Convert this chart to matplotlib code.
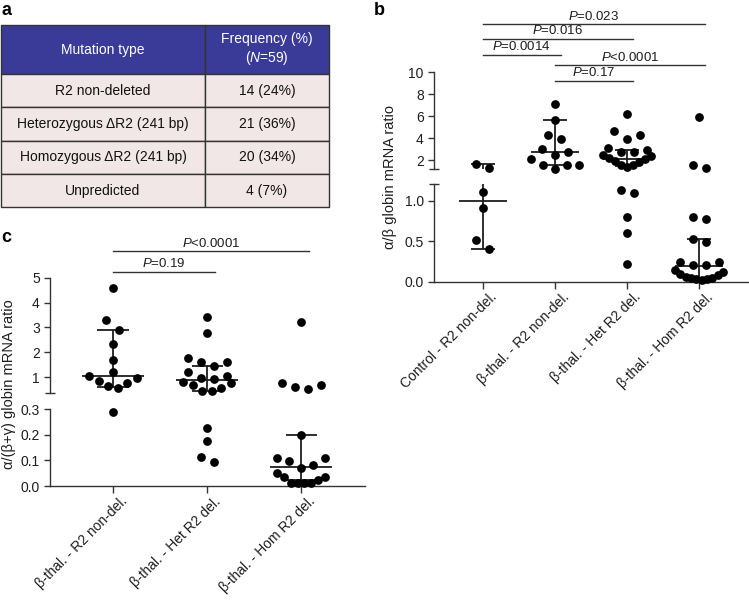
import matplotlib.pyplot as plt
import numpy as np
from matplotlib.transforms import blended_transform_factory, ScaledTranslation

plt.rcParams['font.family'] = ['Liberation Sans', 'DejaVu Sans']
plt.rcParams['mathtext.fontset'] = 'custom'
plt.rcParams['mathtext.rm'] = 'Liberation Sans'
plt.rcParams['mathtext.it'] = 'Liberation Sans:italic'

# ---- panel a: table
table_header = ['Mutation type', 'Frequency (%)\n($\\mathit{N}$=59)']
mutation_types = ['R2 non-deleted', 'Heterozygous \u0394R2 (241 bp)',
                  'Homozygous \u0394R2 (241 bp)', 'Unpredicted']
frequencies = ['14 (24%)', '21 (36%)', '20 (34%)', '4 (7%)']

# ---- panel b: alpha/beta globin mRNA ratio
b_labels = ['Control - R2 non-del.', '\u03b2-thal. - R2 non-del.',
            '\u03b2-thal. - Het R2 del.', '\u03b2-thal. - Hom R2 del.']
b_ctrl = [1.66, 1.30, 1.11, 0.91, 0.40, 0.51]
b_r2 = [7.15, 5.66, 4.30, 3.94, 3.00, 2.78, 2.48, 2.12, 1.55, 1.55, 1.55, 1.22]
b_het = [6.20, 4.64, 4.33, 3.94, 3.15, 2.95, 2.78, 2.75, 2.45, 2.40, 2.20, 2.15,
         1.90, 1.85, 1.60, 1.55, 1.40, 1.13, 1.09, 0.80, 0.60, 0.22]
b_hom = [5.97, 1.55, 1.27, 0.80, 0.77, 0.53, 0.49, 0.24, 0.24, 0.20, 0.20, 0.15,
         0.12, 0.10, 0.08, 0.06, 0.05, 0.04, 0.03, 0.03, 0.02]
b_median = [1.00, 2.73, 2.12, 0.19]
b_q1 = [0.40, 1.55, 1.50, 0.03]
b_q3 = [1.64, 5.66, 2.93, 0.53]
b_pairs = [(0, 3), (0, 2), (0, 1), (1, 3), (1, 2)]
b_pvals = ['=0.023', '=0.016', '=0.0014', '<0.0001', '=0.17']

# ---- panel c: alpha/(beta+gamma) globin mRNA ratio
c_labels = b_labels[1:]
c_r2 = [4.57, 3.28, 2.90, 2.33, 1.69, 1.19, 1.03, 0.95, 0.85, 0.77, 0.64, 0.55, 0.29]
c_het = [3.41, 2.77, 1.77, 1.61, 1.60, 1.45, 1.20, 1.03, 0.95, 0.93, 0.80, 0.77,
         0.70, 0.56, 0.45, 0.44, 0.226, 0.176, 0.115, 0.095]
c_hom = [3.21, 0.77, 0.68, 0.60, 0.52, 0.20, 0.108, 0.108, 0.099, 0.082, 0.069,
         0.052, 0.036, 0.036, 0.023, 0.01, 0.01, 0.01, 0.01]
c_median = [1.03, 0.88, 0.075]
c_q1 = [0.62, 0.45, 0.025]
c_q3 = [2.90, 1.45, 0.20]
c_pairs = [(0, 2), (0, 1)]
c_pvals = ['<0.0001', '=0.19']

W, H = 749, 600
INK = '#1e1e1e'
fig = plt.figure(figsize=(W / 100, H / 100), dpi=100)


def px_axes(x0, y0, x1, y1):
    ax = fig.add_axes([x0 / W, 1 - y1 / H, (x1 - x0) / W, (y1 - y0) / H])
    ax.patch.set_visible(False)
    return ax


# ---------------- table
ta = px_axes(1, 25, 329, 207.3)
ta.axis('off')
tab = ta.table(cellText=[[m, f] for m, f in zip(mutation_types, frequencies)],
               colLabels=table_header, cellLoc='center',
               colWidths=[204, 124], bbox=[0, 0, 1, 1])
tab.auto_set_font_size(False)
tab.set_fontsize(10)
for (r, c), cell in tab.get_celld().items():
    cell.set_edgecolor('#333333')
    cell.set_linewidth(1.0)
    cell.set_height(49 if r == 0 else 33.3)
    if r == 0:
        cell.set_facecolor('#3a3a98')
        cell.get_text().set_color('white')
    else:
        cell.set_facecolor('#f2e7e7')
        cell.get_text().set_color('#111111')


# ---------------- broken-axis scatter helpers
def style_pair(ax_hi, ax_lo, hi_ticks, lo_ticks, brk_hi, brk_lo, xlabels):
    for ax in (ax_hi, ax_lo):
        ax.spines[['top', 'right']].set_visible(False)
        for s in ('left', 'bottom'):
            ax.spines[s].set_linewidth(1.0)
            ax.spines[s].set_color('#333333')
        ax.tick_params(axis='y', direction='out', length=4.3, width=1,
                       labelsize=10, pad=3, color='#333333', labelcolor=INK)
        ax.tick_params(axis='y', which='minor', direction='inout', length=6.5,
                       width=1, color='#333333')
    ax_hi.spines['bottom'].set_visible(False)
    ax_hi.set_xticks([])
    ax_hi.set_yticks(hi_ticks)
    ax_hi.set_yticks([brk_hi], minor=True)
    ax_lo.set_yticks(lo_ticks)
    ax_lo.set_yticklabels([f'{t:.1f}' for t in lo_ticks])
    ax_lo.set_yticks([brk_lo], minor=True)
    ax_lo.set_xticks(range(len(xlabels)))
    ax_lo.set_xticklabels(xlabels, rotation=45, ha='right',
                          rotation_mode='anchor', fontsize=10, color=INK)
    ax_lo.tick_params(axis='x', direction='out', length=5, width=1, pad=1,
                      color='#333333')
    shift = ScaledTranslation(5 / 72, 0, fig.dpi_scale_trans)
    for t in ax_lo.get_xticklabels():
        t.set_transform(t.get_transform() + shift)


def binned_offsets(ypix, vals, bin_h=12.0, max_width=48.0, step=13.0):
    # GraphPad-like scatter: bin points from the bottom up, spread each bin
    # symmetrically, higher values pushed to the outside
    xs = np.zeros(len(ypix))
    order = list(np.argsort(ypix))
    while order:
        start = ypix[order[0]]
        members = [i for i in order if ypix[i] - start < bin_h]
        order = [i for i in order if i not in members]
        n = len(members)
        if n == 1:
            continue
        s = min(step, max_width / (n - 1))
        slots = (np.arange(n) - (n - 1) / 2) * s
        slot_order = []
        lo, hi = 0, n - 1
        while lo <= hi:
            slot_order.append(lo)
            if hi != lo:
                slot_order.append(hi)
            lo += 1
            hi -= 1
        members.sort(key=lambda i: -vals[i])
        for i, k in zip(members, slot_order):
            xs[i] = slots[k]
    return xs


def draw_group(ax_hi, ax_lo, brk, x, vals, med, q1, q3):
    vals = np.asarray(vals, dtype=float)
    up = vals >= brk
    pts = np.c_[np.full(len(vals), x), vals]
    ypix = np.where(up, ax_hi.transData.transform(pts)[:, 1],
                    ax_lo.transData.transform(pts)[:, 1])
    ppu = ax_lo.transData.transform([[1, 0]])[0, 0] - ax_lo.transData.transform([[0, 0]])[0, 0]
    dx = binned_offsets(ypix, vals) / ppu
    ax_hi.plot(x + dx[up], vals[up], 'o', ms=6.3, mew=0, color='black',
               clip_on=False, zorder=3)
    ax_lo.plot(x + dx[~up], vals[~up], 'o', ms=6.3, mew=0, color='black',
               clip_on=False, zorder=3)
    for ax in (ax_hi, ax_lo):
        lo, hi = ax.get_ylim()
        if lo <= med <= hi:
            ax.hlines(med, x - 0.33, x + 0.33, color=INK, lw=1.3, zorder=2)
        a, b = max(q1, lo), min(q3, hi)
        if a < b:
            ax.vlines(x, a, b, color=INK, lw=1.3, zorder=2)
        for q in (q1, q3):
            if lo <= q <= hi:
                ax.hlines(q, x - 0.165, x + 0.165, color=INK, lw=1.3, zorder=2)


def brackets(ax, pairs, pvals, ys):
    tr = blended_transform_factory(ax.transData, fig.transFigure)
    for (i, j), p, y in zip(pairs, pvals, ys):
        yf = 1 - y / H
        ax.plot([i, j + 0.08], [yf, yf], transform=tr, color='#333333', lw=1,
                clip_on=False)
        ax.text((i + j + 0.08) / 2, yf + 1.5 / H, '$\\mathit{P}$' + p,
                transform=tr, ha='center', va='bottom', fontsize=9.5, color=INK)


# ---------------- panel b
bh = px_axes(434, 72.3, 748, 169)
bl = px_axes(434, 184.3, 748, 281.7)
bh.set_ylim(1.2, 10)
bl.set_ylim(0, 1.2)
for ax in (bh, bl):
    ax.set_xlim(-0.68, 3.68)
style_pair(bh, bl, [2, 4, 6, 8, 10], [0.0, 0.5, 1.0], 1.2, 1.2, b_labels)
for i, vals in enumerate([b_ctrl, b_r2, b_het, b_hom]):
    draw_group(bh, bl, 1.2, i, vals, b_median[i], b_q1[i], b_q3[i])
brackets(bh, b_pairs, b_pvals, [24.3, 39, 55, 65, 80.7])
fig.text(390 / W, 1 - 177 / H, '\u03b1/\u03b2 globin mRNA ratio', rotation=90,
         ha='center', va='center', fontsize=10.5, color=INK)

# ---------------- panel c
ch = px_axes(50, 277.7, 365, 393.25)
cl = px_axes(50, 409.3, 365, 486)
ch.set_ylim(0.35, 5)
cl.set_ylim(0, 0.3)
for ax in (ch, cl):
    ax.set_xlim(-0.67, 2.68)
style_pair(ch, cl, [1, 2, 3, 4, 5], [0.0, 0.1, 0.2, 0.3], 0.35, 0.3, c_labels)
for i, vals in enumerate([c_r2, c_het, c_hom]):
    draw_group(ch, cl, 0.3, i, vals, c_median[i], c_q1[i], c_q3[i])
brackets(ch, c_pairs, c_pvals, [251, 271.7])
fig.text(9 / W, 1 - 384 / H, '\u03b1/(\u03b2+\u03b3) globin mRNA ratio', rotation=90,
         ha='center', va='center', fontsize=10.5, color=INK)

# panel letters
for lab, x, y in [('a', 1, 15), ('b', 374, 15), ('c', 1, 242)]:
    fig.text(x / W, 1 - y / H, lab, fontsize=13, fontweight='bold', va='baseline')

fig.savefig('out.png', dpi=100)
